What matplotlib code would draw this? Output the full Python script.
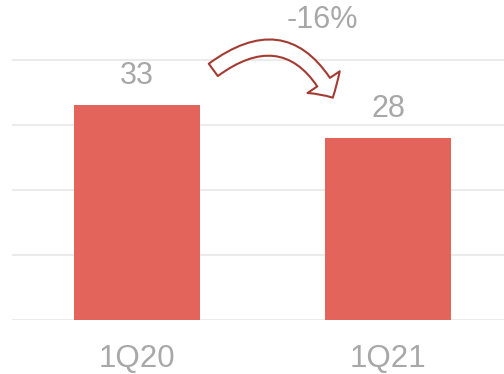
import matplotlib.pyplot as plt
from matplotlib.patches import FancyArrowPatch

plt.rcParams['font.family'] = ['Liberation Sans', 'DejaVu Sans']

quarters = ['1Q20', '1Q21']
values = [33, 28]
change_label = '-16%'

bar_color = '#E2645A'
text_color = '#A8A8A8'
grid_color = '#EBEBEB'
arrow_color = '#A33B33'

fig = plt.figure(figsize=(5.04, 3.74), dpi=100)
ax = fig.add_axes([0.0238, 0.1444, 0.9762, 0.8556])

x = range(len(quarters))
ax.bar(x, values, width=0.5, color=bar_color, zorder=3)

ax.set_xlim(-0.498, 1.462)
ax.set_ylim(0, 49.2)
ax.set_yticks([0, 10, 20, 30, 40])
ax.yaxis.grid(True, color=grid_color, linewidth=1.5, zorder=0)
ax.set_yticklabels([])
ax.tick_params(axis='y', length=0)
for s in ax.spines.values():
    s.set_visible(False)

ax.set_xticks(list(x))
ax.set_xticklabels(quarters)
ax.tick_params(axis='x', length=0, pad=17, labelsize=22.5, labelcolor=text_color)

# value labels above bars
for xi, v in zip(x, values):
    ax.annotate(str(v), (xi, v), xytext=(0, 10), textcoords='offset points',
                ha='center', va='bottom', fontsize=22, color=text_color)

# curved change arrow
arr = FancyArrowPatch((0.295, 38.2), (0.785, 33.8),
                      connectionstyle='arc3,rad=-0.6',
                      arrowstyle='simple,tail_width=11,head_width=28,head_length=13',
                      mutation_scale=1, facecolor='white', edgecolor=arrow_color,
                      linewidth=1.5, zorder=5, clip_on=False)
ax.add_patch(arr)
ax.text(0.74, 46.2, change_label, ha='center', va='center', fontsize=22, color=text_color)

fig.savefig('out.png', dpi=100, facecolor='white')
